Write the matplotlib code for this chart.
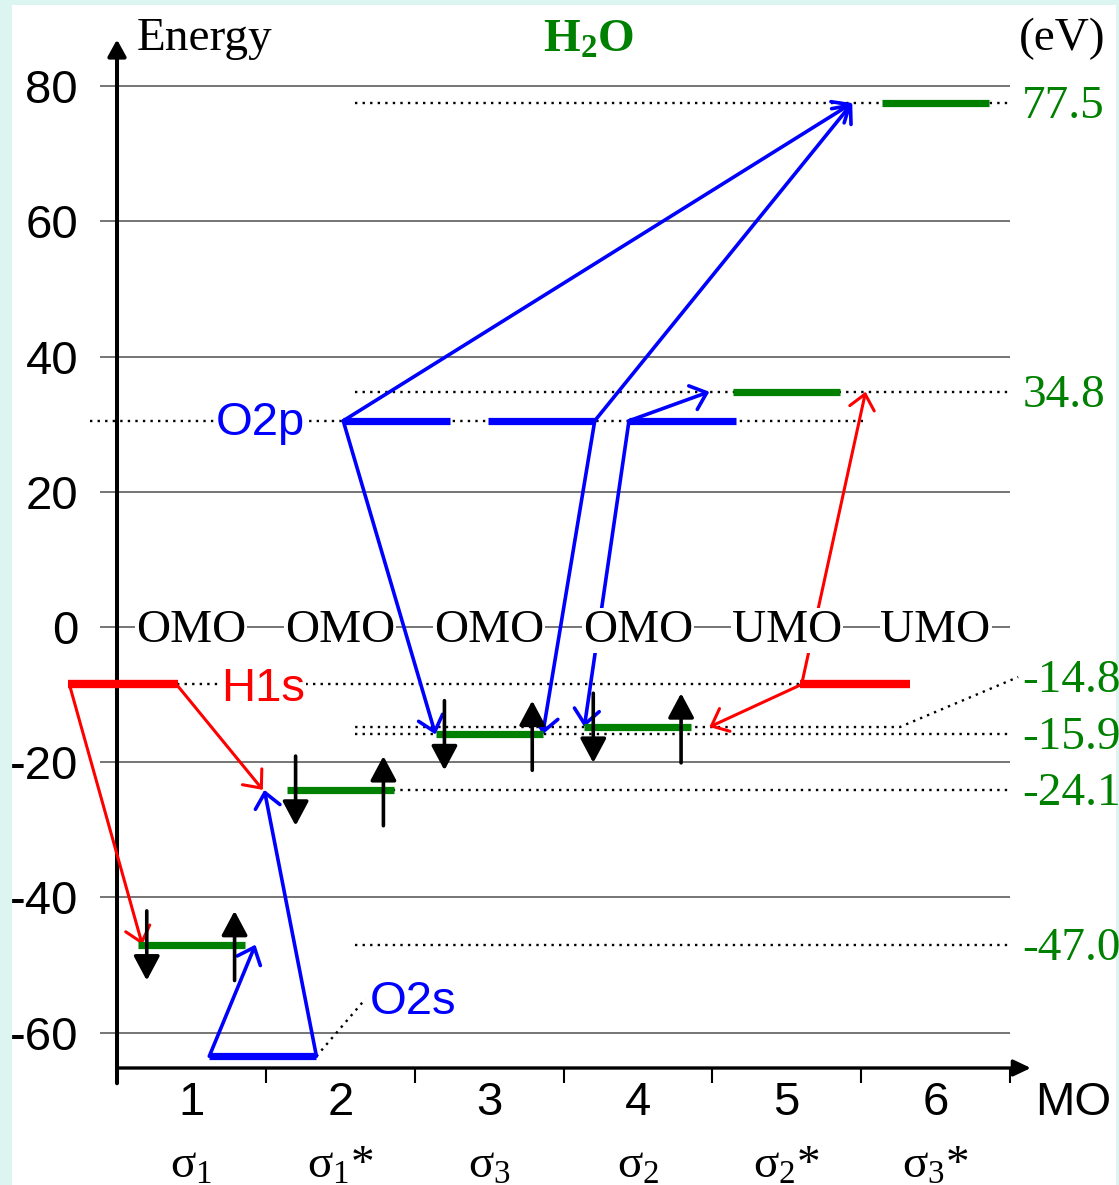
"""
plot.py - orbital energy diagram of H2O built from H1s, O2s and O2p levels.
"""
import numpy as np
import matplotlib
matplotlib.use("Agg")
import matplotlib.pyplot as plt
from matplotlib.patches import Rectangle

# ── Data ──────────────────────────────────────────────────────────────────────
MO_INDEX = [1, 2, 3, 4, 5, 6]
MO_ENERGY = [-47.0, -24.1, -15.9, -14.8, 34.8, 77.5]
MO_ENERGY_TEXT = ["-47.0", "-24.1", "-15.9", "-14.8", "34.8", "77.5"]
MO_STATE = ["OMO", "OMO", "OMO", "OMO", "UMO", "UMO"]
MO_SYMBOL = [r"$\mathrm{\sigma}_1$", r"$\mathrm{\sigma}_1$*", r"$\mathrm{\sigma}_3$",
             r"$\mathrm{\sigma}_2$", r"$\mathrm{\sigma}_2$*", r"$\mathrm{\sigma}_3$*"]
MO_ELECTRONS = [2, 2, 2, 2, 0, 0]

H1S_ENERGY = -8.5
O2S_ENERGY = -63.5
O2P_ENERGY = 30.5
H1S_POS = [0.54, 5.46]
O2S_POS = [1.48]
O2P_POS = [2.38, 3.35, 4.30]

Y_TICKS = [-60, -40, -20, 0, 20, 40, 60, 80]

# (atomic level, bar, bar edge, target MO, MO edge, gap beyond the edge)
RED_LINKS = [
    ("H1s", 0, "left", 1, "left", -0.03),
    ("H1s", 0, "right", 2, "left", 0.16),
    ("H1s", 1, "left", 4, "right", 0.12),
    ("H1s", 1, "left", 5, "right", 0.17),
]
BLUE_LINKS = [
    ("O2s", 0, "left", 1, "right", 0.07),
    ("O2s", 0, "right", 2, "left", 0.15),
    ("O2p", 0, "left", 6, "left", 0.20),
    ("O2p", 0, "left", 3, "left", 0.0),
    ("O2p", 1, "right", 6, "left", 0.20),
    ("O2p", 1, "right", 3, "right", 0.0),
    ("O2p", 2, "left", 5, "left", 0.16),
    ("O2p", 2, "left", 4, "left", 0.0),
]

# ── Style ─────────────────────────────────────────────────────────────────────
SANS = "Liberation Sans"
SERIF = "Liberation Serif"
GREEN, BLUE, RED = "#008000", "#0000ff", "#ff0000"
GRID = "#505050"
HALF_W = 0.36
FS = 34

plt.rcParams["axes.unicode_minus"] = False
plt.rcParams["mathtext.fontset"] = "custom"
plt.rcParams["mathtext.rm"] = SERIF
plt.rcParams["mathtext.it"] = SERIF + ":italic"
plt.rcParams["mathtext.bf"] = SERIF + ":bold"

ATOMIC = {"H1s": (H1S_POS, H1S_ENERGY), "O2s": (O2S_POS, O2S_ENERGY),
          "O2p": (O2P_POS, O2P_ENERGY)}


def edge(center, side, gap=0.0):
    return center - HALF_W - gap if side == "left" else center + HALF_W + gap


def dotted(ax, xs, ys):
    ax.plot(xs, ys, color="black", lw=1.7, ls=(0, (1, 2.2)), zorder=2,
            clip_on=False)


fig = plt.figure(figsize=(11.19, 11.85), dpi=100)
fig.patch.set_facecolor("#dcf5f0")
fig.add_artist(Rectangle((12 / 1119, 0), 1104 / 1119, 1180 / 1185,
                         transform=fig.transFigure, facecolor="white",
                         edgecolor="none", zorder=0))

ax = fig.add_axes([117 / 1119, 117 / 1185, 893 / 1119, 1028 / 1185])
ax.set_xlim(0.5, 6.5)
ax.set_ylim(-65.24, 86.83)
ax.patch.set_alpha(0)
for s in ax.spines.values():
    s.set_visible(False)
ax.set_axisbelow(True)

# y ticks + horizontal grid
ax.set_yticks(Y_TICKS, [str(v) for v in Y_TICKS])
ax.tick_params(axis="y", length=12, width=1.1, color=GRID, pad=16, labelsize=FS)
for lab in ax.get_yticklabels():
    lab.set_family(SANS)
ax.yaxis.grid(True, color=GRID, lw=1.1)
ax.set_xticks(np.arange(0.5, 7.0, 1.0), [])
ax.tick_params(axis="x", length=11, width=1.5, color="black")

# axis lines with arrow heads
ax.annotate("", xy=(0.5, 86.9), xytext=(0.5, -67.5), annotation_clip=False,
            arrowprops=dict(arrowstyle="-|>,head_length=1.0,head_width=0.55",
                            lw=2.9, color="black", shrinkA=0, shrinkB=0,
                            mutation_scale=10))
ax.annotate("", xy=(6.64, -65.24), xytext=(0.5, -65.24), annotation_clip=False,
            arrowprops=dict(arrowstyle="-|>,head_length=1.05,head_width=0.5",
                            lw=2.4, color="black", shrinkA=0, shrinkB=0,
                            mutation_scale=10))

# ── Dotted guide lines ───────────────────────────────────────────────────────
for e, lab in zip(MO_ENERGY, MO_ENERGY_TEXT):
    if lab == "-14.8":
        dotted(ax, [2.1, 5.76, 6.555], [e, e, -7.4])
    else:
        dotted(ax, [2.1, 6.5], [e, e])
dotted(ax, [edge(H1S_POS[0], "right"), edge(H1S_POS[1], "left")],
       [H1S_ENERGY, H1S_ENERGY])
dotted(ax, [0.32, 5.53], [O2P_ENERGY, O2P_ENERGY])
dotted(ax, [edge(O2S_POS[0], "right"), 2.17], [O2S_ENERGY, -55.0])

# ── Level bars ───────────────────────────────────────────────────────────────
for x, e in zip(MO_INDEX, MO_ENERGY):
    ax.plot([x - HALF_W, x + HALF_W], [e, e], color=GREEN, lw=5.2,
            solid_capstyle="butt", zorder=5)
for x in H1S_POS:
    ax.plot([x - HALF_W - 0.01, x + HALF_W + 0.01], [H1S_ENERGY] * 2, color=RED,
            lw=6, solid_capstyle="butt", zorder=5, clip_on=False)
for x in O2S_POS:
    ax.plot([x - HALF_W, x + HALF_W], [O2S_ENERGY] * 2, color=BLUE, lw=5.2,
            solid_capstyle="butt", zorder=5)
for x in O2P_POS:
    ax.plot([x - HALF_W, x + HALF_W], [O2P_ENERGY] * 2, color=BLUE, lw=5.2,
            solid_capstyle="butt", zorder=5)

# ── Correlation arrows ──────────────────────────────────────────────────────
for links, color, lw in [(RED_LINKS, RED, 2.2), (BLUE_LINKS, BLUE, 2.6)]:
    for level, bar, side, mo, mo_side, gap in links:
        pos, e0 = ATOMIC[level]
        x0 = edge(pos[bar], side)
        x1 = edge(MO_INDEX[mo - 1], mo_side, gap)
        e1 = MO_ENERGY[mo - 1]
        ax.annotate("", xy=(x1, e1), xytext=(x0, e0), annotation_clip=False,
                    arrowprops=dict(arrowstyle="->,head_length=1.05,head_width=0.9",
                                    lw=lw, color=color, shrinkA=0, shrinkB=0,
                                    mutation_scale=10), zorder=3)

# ── Electron spins ──────────────────────────────────────────────────────────
spin = dict(arrowstyle="-|>,head_length=1.5,head_width=0.8", lw=2.6,
            color="black", shrinkA=0, shrinkB=0, mutation_scale=10)
for x, e, n in zip(MO_INDEX, MO_ENERGY, MO_ELECTRONS):
    if n < 2:
        continue
    ax.annotate("", xy=(x - 0.30, e - 5.3), xytext=(x - 0.30, e + 5.0),
                arrowprops=spin, zorder=6)
    ax.annotate("", xy=(x + 0.29, e + 5.0), xytext=(x + 0.29, e - 5.3),
                arrowprops=spin, zorder=6)

# ── Text ─────────────────────────────────────────────────────────────────────
white = dict(boxstyle="square,pad=0.02", facecolor="white", edgecolor="none")
for x, st in zip(MO_INDEX, MO_STATE):
    ax.text(x, -2.2, st, ha="center", va="baseline", fontsize=FS,
            family=SERIF, bbox=white, zorder=4)
for x, sym in zip(MO_INDEX, MO_SYMBOL):
    ax.text(x, -81.4, sym, ha="center", va="baseline", fontsize=FS,
            family=SERIF)
    ax.text(x, -72.2, str(x), ha="center", va="baseline", fontsize=FS,
            family=SANS)
ax.text(6.669, -72.2, "MO", ha="left", va="baseline", fontsize=FS, family=SANS)

for e, lab in zip(MO_ENERGY, MO_ENERGY_TEXT):
    anchor = -7.4 if lab == "-14.8" else e
    ax.text(6.582, anchor - 2.2, lab, ha="left", va="baseline", fontsize=FS,
            family=SERIF, color=GREEN)

ax.text(0.634, 85.4, "Energy", ha="left", va="baseline", fontsize=FS,
        family=SERIF)
ax.text(3.665, 85.1, r"$\mathbf{H_2O}$", ha="center", va="baseline",
        fontsize=FS, color=GREEN)
ax.text(7.14, 85.4, "(eV)", ha="right", va="baseline", fontsize=FS,
        family=SERIF)

ax.text(1.163, 28.4, "O2p", ha="left", va="baseline", fontsize=FS,
        family=SANS, color=BLUE, bbox=white, zorder=4)
ax.text(1.2, -10.95, "H1s", ha="left", va="baseline", fontsize=FS,
        family=SANS, color=RED, bbox=white, zorder=4)
ax.text(2.2, -57.2, "O2s", ha="left", va="baseline", fontsize=FS,
        family=SANS, color=BLUE)

fig.savefig("out.png", dpi=100, facecolor=fig.get_facecolor())
